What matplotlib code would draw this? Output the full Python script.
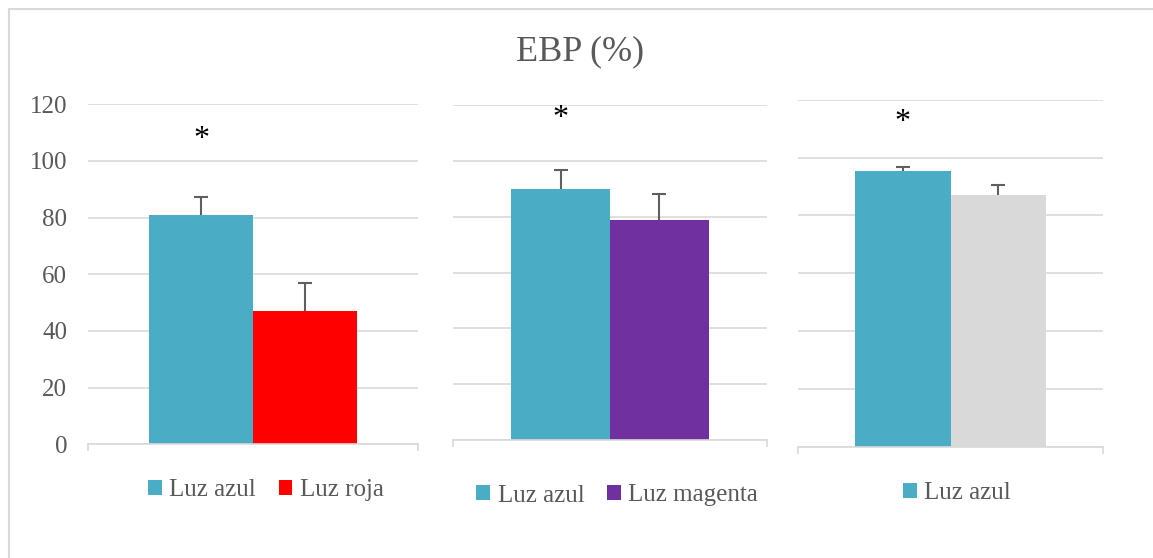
import matplotlib.pyplot as plt
from matplotlib.patches import Rectangle

plt.rcParams['font.family'] = ['Liberation Serif', 'DejaVu Serif']

# values
labels = [["Luz azul", "Luz roja"], ["Luz azul", "Luz magenta"], ["Luz azul", ""]]
values = [[81, 47], [89.9, 78.8], [95.4, 87.0]]
errors = [[6.2, 9.9], [6.7, 9.3], [1.3, 3.5]]
colors = [["#4BACC6", "#FF0000"], ["#4BACC6", "#7030A0"], ["#4BACC6", "#D9D9D9"]]
star_y = [107.5, 115, 112]
yticks = [0, 20, 40, 60, 80, 100, 120]

W, H = 1153, 558
fig = plt.figure(figsize=(W / 100, H / 100), dpi=100)

# panel boxes in pixels: left, right, top(y=120), bottom(y=0)
boxes = [(88, 418, 104.3, 444.3), (453, 767, 104.7, 440.3), (798, 1103, 99.7, 446.7)]
leg_pos = [(266, 490), (617, 495.5), (957, 493)]

grid_c = "#D9D9D9"
text_c = "#595959"
bw = 0.314

for i, (l, r, t, b) in enumerate(boxes):
    ax = fig.add_axes([l / W, 1 - b / H, (r - l) / W, (b - t) / H])
    ax.set_xlim(0, 1)
    ax.set_ylim(0, 120)
    ax.set_yticks(yticks)
    ax.yaxis.grid(True, color=grid_c, lw=1.2)
    ax.set_axisbelow(True)
    for s in ["top", "right", "left"]:
        ax.spines[s].set_visible(False)
    ax.spines["bottom"].set_color(grid_c)
    ax.spines["bottom"].set_linewidth(1.2)
    ax.set_xticks([0, 1])
    ax.set_xticklabels([])
    ax.tick_params(axis="x", direction="out", length=5, color=grid_c, width=1.2)
    if i == 0:
        ax.tick_params(axis="y", length=0, labelsize=18, labelcolor=text_c, pad=15)
    else:
        ax.tick_params(axis="y", length=0, labelleft=False)

    xs = [0.5 - bw / 2, 0.5 + bw / 2]
    bars = ax.bar(xs, values[i], width=bw, color=colors[i], zorder=2)
    eb = ax.errorbar(xs, values[i], yerr=[[0, 0], errors[i]], fmt="none",
                     ecolor="#5f5f5f", elinewidth=1.5, capsize=5, capthick=1.5, zorder=3)
    eb[1][0].set_visible(False)  # only the upper cap
    ax.text(xs[0], star_y[i], "*", ha="center", va="center", fontsize=23, color="black")

    handles = [bb for bb, lab in zip(bars, labels[i]) if lab]
    labs = [lab for lab in labels[i] if lab]
    fig.legend(handles, labs, loc="center", bbox_to_anchor=(leg_pos[i][0] / W, 1 - leg_pos[i][1] / H),
               ncol=2, frameon=False, fontsize=18, labelcolor=text_c,
               handlelength=0.55, handleheight=0.55, handletextpad=0.3, columnspacing=0.9)

fig.text(580 / W, 1 - 52 / H, "EBP (%)", ha="center", va="center", fontsize=26, color=text_c)

fig.patches.append(Rectangle((8.5 / W, -0.1), 1.2, 1.1 - 9 / H, transform=fig.transFigure,
                             fill=False, edgecolor=grid_c, lw=1.5))

fig.savefig("out.png", dpi=100, facecolor="white")
